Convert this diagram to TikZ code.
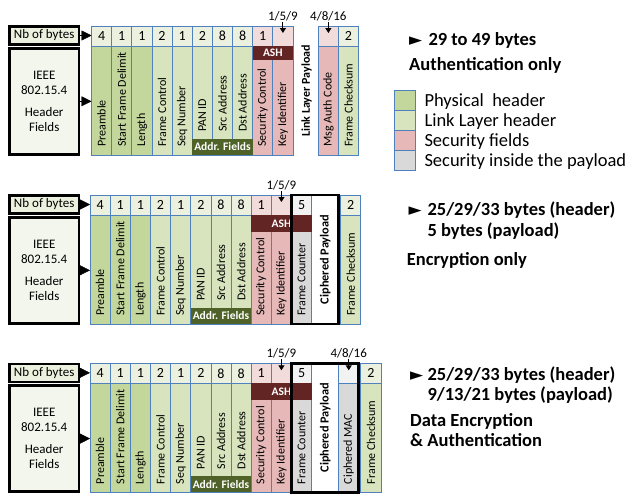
\documentclass[tikz,border=0pt]{standalone}
\usepackage{fontspec}
\setmainfont{Carlito}
\newfontfamily\dejavufont{DejaVu Sans}
\usetikzlibrary{positioning,arrows.meta}

\definecolor{phyhdr}{HTML}{C3D69B}
\definecolor{llhdr}{HTML}{D7E4BD}
\definecolor{secfld}{HTML}{E6B9B8}
\definecolor{secpay}{HTML}{D9D9D9}
\definecolor{nbgreen}{HTML}{EBF1DE}
\definecolor{nbred}{HTML}{F2DCDB}
\definecolor{nbgray}{HTML}{F2F2F2}
\definecolor{ashred}{HTML}{632523}
\definecolor{addrgreen}{HTML}{4F6228}
\definecolor{cellline}{HTML}{4F81BD}
\definecolor{bytesfill}{HTML}{EBF1DE}
\definecolor{hdrfill}{HTML}{F3F6EC}

\tikzset{
  cell/.style={draw=cellline, line width=0.75pt, inner sep=0pt, outer sep=0pt, minimum width=20.15pt},
  numcell/.style={cell, minimum height=20pt, font=\fontsize{14}{14}\selectfont},
  fieldcell/.style={cell, minimum height=109pt},
  fieldname/.style={rotate=90, anchor=west, inner sep=0pt, font=\fontsize{12}{12}\selectfont},
  leftbox/.style={draw, line width=2.6pt, inner sep=0pt, outer sep=0pt, minimum width=69.4pt, font=\fontsize{13}{15.5}\selectfont},
  fieldbar/.style={inner sep=0pt, outer sep=0pt, text=white, font=\bfseries\fontsize{11.5}{11.5}\selectfont},
  payframe/.style={draw, line width=2.8pt},
  pointer/.style={-{Triangle[length=10pt,width=10pt]}, line width=0.4pt},
  sizetip/.style={-{Triangle[length=5pt,width=6pt]}, line width=1pt, shorten <=1pt, shorten >=3pt},
  sizelbl/.style={inner sep=0pt, font=\fontsize{13}{13}\selectfont},
  note/.style={anchor=base west, inner sep=0pt, font=\bfseries\fontsize{18.5}{18.5}\selectfont},
  keytext/.style={anchor=base west, inner sep=0pt, font=\fontsize{18.5}{18.5}\selectfont}
}

\begin{document}
\begin{tikzpicture}[x=1pt,y=-1pt]
\useasboundingbox (0,0) rectangle (629,493);
% the three frames share the header fields
\foreach \s/\cx/\cy in {1/91.5/26,2/90/195,3/90/363.3}{
  \node[leftbox, fill=bytesfill, minimum height=18pt] (bytes\s) at (44.2,\cy+9.5) {Nb of bytes};
  \node[leftbox, fill=hdrfill, minimum height=106pt, align=center] (hdr\s) at (44.2,\cy+75.3) {IEEE\\802.15.4\\[6pt]Header\\Fields};
  \foreach \i/\nb/\fname/\fc/\nc/\up in {1/4/Preamble/phyhdr/nbgreen/8pt,2/1/Start Frame Delimit/phyhdr/nbgreen/8pt,3/1/Length/phyhdr/nbgreen/8pt,4/2/Frame Control/llhdr/nbgreen/8pt,5/1/Seq Number/llhdr/nbgreen/8pt,6/2/PAN ID/llhdr/nbgreen/23pt,7/8/Src Address/llhdr/nbgreen/23pt,8/8/Dst Address/llhdr/nbgreen/23pt,9/1/Security Control/secfld/nbred/8pt,10/{}/Key Identifier/secfld/nbred/8pt}{
    \node[numcell, fill=\nc, anchor=north west] (num\s-\i) at ({\cx+(\i-1)*20.15},\cy) {\nb};
    \node[fieldcell, fill=\fc, below=0pt of num\s-\i] (fld\s-\i) {};
    \node[fieldname] (txt\s-\i) at ([yshift=\up]fld\s-\i.south) {\fname};
  }
  \node[fieldbar, fill=addrgreen, minimum width=60.45pt, minimum height=16pt, anchor=south west] (addr\s) at (fld\s-6.south west) {Addr. Fields};
  \draw[pointer] (bytes\s.east) -- (bytes\s.east -| num\s-1.west);
  \draw[pointer] (hdr\s.east) -- (hdr\s.east -| fld\s-1.west);
}

% authentication only
\node[fieldname, font=\bfseries\fontsize{12}{12}\selectfont] (llp1) at ([xshift=13.7pt,yshift=18pt]fld1-10.south east) {Link Layer Payload};
\node[numcell, fill=nbred, right=25.3pt of num1-10] (num1-11) {};
\node[fieldcell, fill=secfld, below=0pt of num1-11] (fld1-11) {};
\node[fieldname] (txt1-11) at ([yshift=8pt]fld1-11.south) {Msg Auth Code};
\node[numcell, fill=nbgreen, right=0pt of num1-11] (num1-12) {2};
\node[fieldcell, fill=llhdr, below=0pt of num1-12] (fld1-12) {};
\node[fieldname] (txt1-12) at ([yshift=8pt]fld1-12.south) {Frame Checksum};

% encryption only
\node[numcell, fill=nbgray, right=0pt of num2-10] (num2-11) {5};
\node[fieldcell, fill=secpay, below=0pt of num2-11] (fld2-11) {};
\node[fieldname] (txt2-11) at ([yshift=8pt]fld2-11.south) {Frame Counter};
\node[fill=white, inner sep=0pt, outer sep=0pt, minimum width=27pt, minimum height=129pt, anchor=north west] (pay2) at (num2-11.north east) {};
\node[fieldname, anchor=center, font=\bfseries\fontsize{12.3}{12.3}\selectfont] (txt2-12) at (pay2) {Ciphered Payload};
\node[numcell, fill=nbgreen, anchor=north west] (num2-13) at ([xshift=2pt]pay2.north east) {2};
\node[fieldcell, fill=llhdr, below=0pt of num2-13] (fld2-13) {};
\node[fieldname] (txt2-13) at ([yshift=8pt]fld2-13.south) {Frame Checksum};

% encryption and authentication
\node[numcell, fill=nbgray, right=0pt of num3-10] (num3-11) {5};
\node[fieldcell, fill=secpay, below=0pt of num3-11] (fld3-11) {};
\node[fieldname] (txt3-11) at ([yshift=8pt]fld3-11.south) {Frame Counter};
\node[fill=white, inner sep=0pt, outer sep=0pt, minimum width=27pt, minimum height=129pt, anchor=north west] (pay3) at (num3-11.north east) {};
\node[fieldname, anchor=center, font=\bfseries\fontsize{12.3}{12.3}\selectfont] (txt3-12) at (pay3) {Ciphered Payload};
\node[numcell, fill=nbgray, anchor=north west] (num3-13) at (pay3.north east) {};
\node[fieldcell, fill=secpay, below=0pt of num3-13] (fld3-13) {};
\node[fieldname] (txt3-13) at ([yshift=8pt]fld3-13.south) {Ciphered MAC};
\node[numcell, fill=nbgreen, anchor=north west] (num3-14) at ([xshift=2pt]num3-13.north east) {2};
\node[fieldcell, fill=llhdr, below=0pt of num3-14] (fld3-14) {};
\node[fieldname] (txt3-14) at ([yshift=8pt]fld3-14.south) {Frame Checksum};

\foreach \s/\w/\h in {1/40.3pt/14pt,2/60.45pt/17pt,3/60.45pt/17pt}
  \node[fieldbar, fill=ashred, minimum width=\w, minimum height=\h, anchor=north west] (ash\s) at (fld\s-9.north west) {ASH};

\draw[payframe] (num2-11.north west) rectangle (pay2.south east);
\draw[payframe] (num3-11.north west) rectangle (fld3-13.south east);

% variable lengths
\node[sizelbl, above=5pt of num1-10] (len1-10) {1/5/9};
\draw[sizetip] (len1-10.south) -- (num1-10.center);
\node[sizelbl, above=5pt of num1-11] (len1-11) {4/8/16};
\draw[sizetip] (len1-11.south) -- (num1-11.center);
\node[sizelbl, above=5pt of num2-10] (len2-10) {1/5/9};
\draw[sizetip] (len2-10.south) -- (num2-10.center);
\node[sizelbl, above=5pt of num3-10] (len3-10) {1/5/9};
\draw[sizetip] (len3-10.south) -- (num3-10.center);
\node[sizelbl, above=5pt of num3-13] (len3-13) {4/8/16};
\draw[sizetip] (len3-13.south) -- (num3-13.center);

% sizes and modes
\node[note] (tri1) at (409,45) {\dejavufont\fontsize{17}{17}\selectfont ►};
\node[note] (sum1) at (428.3,45) {29 to 49 bytes};
\node[note] (mode1) at (409,70) {Authentication only};
\node[note] (tri2) at (408.3,215) {\dejavufont\fontsize{17}{17}\selectfont ►};
\node[note] (sum2a) at (427.3,215) {25/29/33 bytes (header)};
\node[note] (sum2b) at (427.3,236) {5 bytes (payload)};
\node[note] (mode2) at (406.7,265) {Encryption only};
\node[note] (tri3) at (410,380) {\dejavufont\fontsize{17}{17}\selectfont ►};
\node[note] (sum3a) at (427.3,380) {25/29/33 bytes (header)};
\node[note] (sum3b) at (427.3,400) {9/13/21 bytes (payload)};
\node[note] (mode3a) at (410,426.7) {Data Encryption};
\node[note] (mode3b) at (410,446.7) {\& Authentication};

% legend
\foreach \i/\col/\lbl in {0/phyhdr/Physical~ header,1/llhdr/Link Layer header,2/secfld/Security fields,3/secpay/Security inside the payload}{
  \node[cell, fill=\col, minimum width=21pt, minimum height=20pt, anchor=north west] (key\i) at (394,90.7+\i*20) {};
  \node[keytext] (keytxt\i) at (424.3,106.7+\i*20) {\lbl};
}
\end{tikzpicture}
\end{document}
